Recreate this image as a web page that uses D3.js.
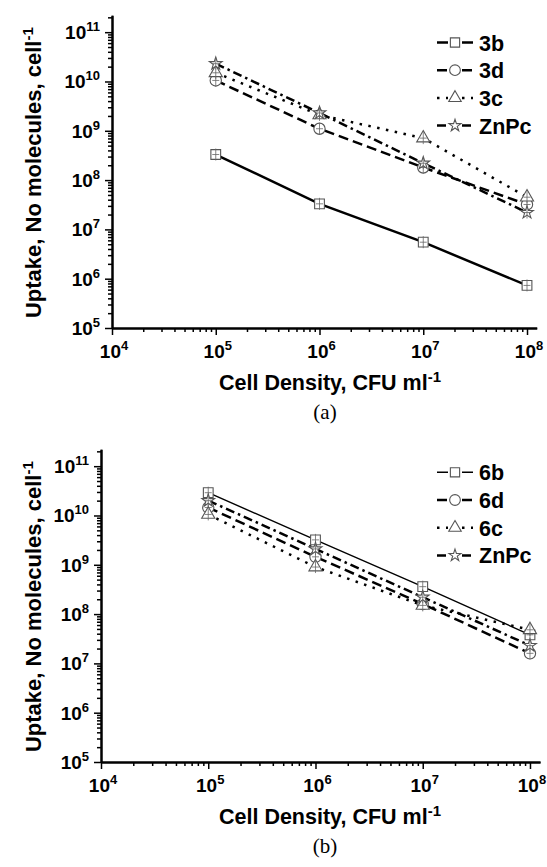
<!DOCTYPE html>
<html>
<head>
<meta charset="utf-8">
<script src="https://cdnjs.cloudflare.com/ajax/libs/d3/7.8.5/d3.min.js"></script>
<style>
  body { margin: 0; background: #fff; }
  svg { display: block; }
  text { font-family: "Liberation Sans", Arial, sans-serif; fill: #000; }
  .domain { stroke: #000; stroke-width: 2; }
  .tick line { stroke: #000; stroke-width: 1.5; }
</style>
</head>
<body>
<svg id="fig" width="547" height="867"></svg>
<script>
// cell density (CFU/ml) of each measurement
const cellDensity = [1e5, 1e6, 1e7, 1e8];

// x / y decade ticks
const xTicks = [1e4, 1e5, 1e6, 1e7, 1e8];
const yTicks = [1e5, 1e6, 1e7, 1e8, 1e9, 1e10, 1e11];

// panel (a)
const namesA = ["3b", "3d", "3c", "ZnPc"];
const uptake3b = [3.3e8, 3.3e7, 5.5e6, 7.3e5];
const uptake3d = [1.05e10, 1.1e9, 1.8e8, 3.2e7];
const uptake3c = [1.5e10, 2.1e9, 7.1e8, 4.5e7];
const uptakeZnPcA = [2.3e10, 2.3e9, 2.2e8, 2.2e7];

// panel (b)
const namesB = ["6b", "6d", "6c", "ZnPc"];
const uptake6b = [2.9e10, 3.2e9, 3.6e8, 3.8e7];
const uptake6d = [1.45e10, 1.45e9, 1.6e8, 1.6e7];
const uptake6c = [1.05e10, 9.0e8, 1.5e8, 4.8e7];
const uptakeZnPcB = [2.0e10, 2.1e9, 2.2e8, 2.3e7];

let svg = d3.select("#fig");

// line style per series slot (same order in both panels)
let symbols = [d3.symbolSquare, d3.symbolCircle, d3.symbolTriangle, d3.symbolStar];
let symSizes = [95, 100, 75, 50];
let dashes = [null, "10,5", "2.5,6.5", "9,4,2.5,4"];

function supText(sel, base, sup, supSize, dy) {
    sel.append("tspan").text(base);
    sel.append("tspan").text(sup)
        .attr("dy", -dy)
        .style("font-size", supSize + "px");
}

function drawPanel(p) {
    let x = d3.scaleLog().domain([1e4, 1.24e8]).range([p.left, p.right]);
    let y = d3.scaleLog().domain([1e5, 2.2e11]).range([p.bottom, p.top]);

    let minorX = [], minorY = [];
    for (let d = 4; d < 8; d++) for (let k = 2; k < 10; k++) minorX.push(k * Math.pow(10, d));
    for (let d = 5; d < 11; d++) for (let k = 2; k < 10; k++) minorY.push(k * Math.pow(10, d));
    minorY.push(2e11);

    let g = svg.append("g");

    // x axis: minor then major ticks
    g.append("g")
        .attr("transform", "translate(0," + p.bottom + ")")
        .call(d3.axisBottom(x).tickValues(minorX).tickSize(4).tickSizeOuter(0).tickFormat(""));
    g.append("g")
        .attr("transform", "translate(0," + p.bottom + ")")
        .call(d3.axisBottom(x).tickValues(xTicks).tickSize(7).tickSizeOuter(0).tickFormat(""));

    // y axis
    g.append("g")
        .attr("transform", "translate(" + p.left + ",0)")
        .call(d3.axisLeft(y).tickValues(minorY).tickSize(4).tickSizeOuter(0).tickFormat(""));
    g.append("g")
        .attr("transform", "translate(" + p.left + ",0)")
        .call(d3.axisLeft(y).tickValues(yTicks).tickSize(7).tickSizeOuter(0).tickFormat(""));

    // tick labels, 10 with superscript exponent
    g.selectAll("xlab")
        .data(xTicks).enter()
        .append("text")
        .attr("x", d => x(d) + 2)
        .attr("y", p.bottom + 30)
        .attr("text-anchor", "middle")
        .style("font-size", "19px")
        .style("font-weight", "bold")
        .each(function(d) { supText(d3.select(this), "10", Math.round(Math.log10(d)), 13, 8); });

    g.selectAll("ylab")
        .data(yTicks).enter()
        .append("text")
        .attr("x", p.left - 12)
        .attr("y", d => y(d) + 7)
        .attr("text-anchor", "end")
        .style("font-size", "19px")
        .style("font-weight", "bold")
        .each(function(d) { supText(d3.select(this), "10", Math.round(Math.log10(d)), 13, 8); });

    // axis titles
    let xt = g.append("text")
        .attr("x", 330)
        .attr("y", p.bottom + 62)
        .attr("text-anchor", "middle")
        .style("font-size", "21.5px")
        .style("font-weight", "bold");
    supText(xt, "Cell Density, CFU ml", "-1", 15, 8);

    let yt = g.append("text")
        .attr("transform", "translate(41," + ((p.top + p.bottom) / 2 + 1) + ") rotate(-90)")
        .attr("text-anchor", "middle")
        .style("font-size", "22px")
        .style("font-weight", "bold");
    supText(yt, "Uptake, No molecules, cell", "-1", 15, 8);

    // panel caption
    g.append("text")
        .attr("x", 325)
        .attr("y", p.bottom + 91)
        .attr("text-anchor", "middle")
        .style("font-family", "'Liberation Serif', 'Times New Roman', serif")
        .style("font-size", "21px")
        .text(p.caption);

    let line = d3.line()
        .x((d, i) => x(cellDensity[i]))
        .y(d => y(d));

    // lines
    p.series.forEach(function(s, i) {
        g.append("path")
            .datum(s)
            .attr("d", line)
            .attr("fill", "none")
            .attr("stroke", "#000")
            .attr("stroke-width", p.widths[i])
            .attr("stroke-dasharray", dashes[i]);
    });

    // markers with small error bars
    p.series.forEach(function(s, i) {
        let sym = d3.symbol().type(symbols[i]).size(symSizes[i]);
        let pts = g.selectAll(null)
            .data(s).enter()
            .append("g")
            .attr("transform", (d, j) => "translate(" + x(cellDensity[j]) + "," + y(d) + ")");
        pts.append("path")
            .attr("d", sym)
            .attr("fill", "#fff")
            .attr("stroke", "#555")
            .attr("stroke-width", 1.1);
        pts.append("path")
            .attr("d", "M0,-6V6M-3.5,0H3.5")
            .attr("stroke", "#666")
            .attr("stroke-width", 0.8);
    });

    // legend
    let lg = g.selectAll("legend")
        .data(p.names).enter()
        .append("g")
        .attr("transform", (d, i) => "translate(" + p.legendX + "," + (p.legendY + i * 27.7) + ")");
    lg.append("path")
        .attr("d", "M0,0H11M25,0H36")
        .attr("stroke", "#000")
        .attr("stroke-width", (d, i) => p.widths[i])
        .attr("stroke-dasharray", (d, i) => dashes[i]);
    lg.append("path")
        .attr("transform", "translate(18,0)")
        .attr("d", (d, i) => d3.symbol().type(symbols[i]).size(symSizes[i] * 0.9)())
        .attr("fill", "#fff")
        .attr("stroke", "#555")
        .attr("stroke-width", 1.1);
    lg.append("text")
        .attr("x", 42)
        .attr("y", 8)
        .style("font-size", "21.5px")
        .style("font-weight", "bold")
        .text(d => d);
}

drawPanel({
    left: 112, right: 536.7, top: 15.3, bottom: 328,
    series: [uptake3b, uptake3d, uptake3c, uptakeZnPcA],
    names: namesA,
    widths: [2.5, 2.5, 2.5, 2.5],
    legendX: 437, legendY: 42.5,
    caption: "(a)"
});

drawPanel({
    left: 101, right: 540, top: 449.3, bottom: 762,
    series: [uptake6b, uptake6d, uptake6c, uptakeZnPcB],
    names: namesB,
    widths: [1.4, 2.5, 2.5, 2.5],
    legendX: 437, legendY: 472.3,
    caption: "(b)"
});
</script>
</body>
</html>
